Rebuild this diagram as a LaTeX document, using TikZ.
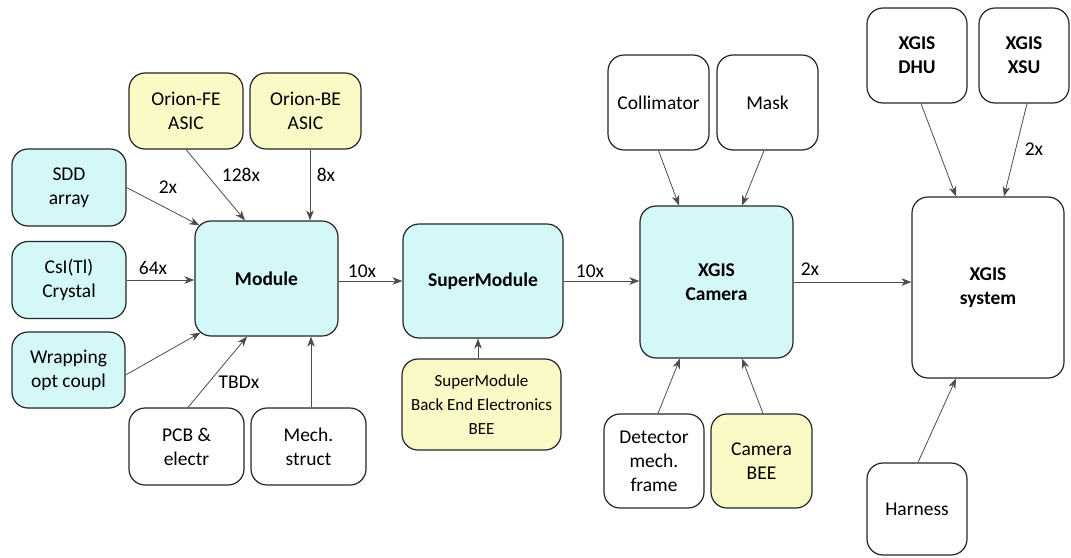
\documentclass[tikz,border=0pt]{standalone}
\usepackage{fontspec}
\setmainfont{Carlito}
\usetikzlibrary{arrows.meta}
\definecolor{detectorCyan}{RGB}{212,247,248}
\definecolor{electronicsYellow}{RGB}{250,250,198}

\begin{document}
\begin{tikzpicture}[
  x=1pt, y=-1pt,
  every node/.style={align=center, font=\fontsize{19.5}{24}\selectfont},
  box/.style={rounded corners=16pt, draw=black!85, line width=1.2pt, fill=white, inner sep=2pt},
  cyanbox/.style={box, fill=detectorCyan},
  yellowbox/.style={box, fill=electronicsYellow},
  mainbox/.style={font=\bfseries\fontsize{19.5}{24}\selectfont},
  flow/.style={-{Stealth[length=10pt,width=7.5pt,inset=3pt]}, line width=0.8pt, draw=black!70},
  mult/.style={inner sep=0pt}]

\useasboundingbox (0,0) rectangle (1071,557);

% Position the nodes at the places they take in the layout
\node[yellowbox, minimum width=114pt, minimum height=76pt] (orionFE) at (186,111) {Orion-FE\\ASIC};
\node[yellowbox, minimum width=111pt, minimum height=76pt] (orionBE) at (305.5,111) {Orion-BE\\ASIC};
\node[cyanbox, minimum width=114pt, minimum height=77pt] (sddArray) at (69,187.5) {SDD\\array};
\node[cyanbox, minimum width=114pt, minimum height=77pt] (csiCrystal) at (69,280) {CsI(Tl)\\Crystal};
\node[cyanbox, minimum width=113pt, minimum height=76pt] (wrappingCoupl) at (68.5,370) {Wrapping\\opt coupl};
\node[cyanbox, mainbox, minimum width=143pt, minimum height=115pt] (module) at (266.5,278.5) {Module};
\node[box, minimum width=115pt, minimum height=77pt] (pcbElectr) at (186.5,446.5) {PCB \&\\electr};
\node[box, minimum width=115pt, minimum height=77pt] (mechStruct) at (308.5,446.5) {Mech.\\struct};

\node[cyanbox, mainbox, minimum width=160pt, minimum height=114pt] (superModule) at (483,281) {SuperModule};
\node[yellowbox, minimum width=159pt, minimum height=91pt,
  font=\fontsize{17}{24}\selectfont] (superModuleBEE) at (481.5,404.5) {SuperModule\\Back End Electronics\\BEE};

\node[box, minimum width=101pt, minimum height=95pt] (collimator) at (658.5,102.5) {Collimator};
\node[box, minimum width=101pt, minimum height=95pt] (mask) at (767.5,102.5) {Mask};
\node[cyanbox, mainbox, minimum width=153pt, minimum height=152pt] (xgisCamera) at (716.5,282) {XGIS\\Camera};
\node[box, minimum width=100pt, minimum height=94pt] (detectorFrame) at (654,461) {Detector\\mech.\\frame};
\node[yellowbox, minimum width=101pt, minimum height=94pt] (cameraBEE) at (761.5,461) {Camera\\BEE};

\node[box, mainbox, minimum width=100pt, minimum height=95pt] (xgisDHU) at (917,55.5) {XGIS\\DHU};
\node[box, mainbox, minimum width=90pt, minimum height=95pt] (xgisXSU) at (1024,55.5) {XGIS\\XSU};
\node[box, mainbox, minimum width=152pt, minimum height=181pt] (xgisSystem) at (988,287.5) {XGIS\\system};
\node[box, minimum width=100pt, minimum height=92pt] (harness) at (917,509) {Harness};

% Draw the arrows between the nodes
\draw [flow] (sddArray.east) -- ([shift={(5pt,-5pt)}]module.north west);
\draw [flow] (orionFE.south) -- ([xshift=-21.5pt]module.north);
\draw [flow] ([xshift=4.5pt]orionBE.south) -- ([xshift=43.5pt]module.north);
\draw [flow] (csiCrystal.east) -- (csiCrystal.east -| module.west);
\draw [flow] ([yshift=-5pt]wrappingCoupl.east) -- ([shift={(6pt,4pt)}]module.south west);
\draw [flow] ([xshift=1.5pt]pcbElectr.north) -- ([xshift=-19.5pt]module.south);
\draw [flow] ([xshift=2.5pt]mechStruct.north) -- ([xshift=44.5pt]module.south);

\draw [flow] (module.east |- superModule.west) -- (superModule.west);
\draw [flow] ([xshift=-3.5pt]superModuleBEE.north) -- ([xshift=-5pt]superModule.south);
\draw [flow] (superModule.east) -- (superModule.east -| xgisCamera.west);

\draw [flow] (collimator.south) -- ([xshift=-37.5pt]xgisCamera.north);
\draw [flow] ([xshift=-3.5pt]mask.south) -- ([xshift=25.5pt]xgisCamera.north);
\draw [flow] ([xshift=4pt]detectorFrame.north) -- ([xshift=-36.5pt]xgisCamera.south);
\draw [flow] ([xshift=1.5pt]cameraBEE.north) -- ([xshift=25.5pt]xgisCamera.south);
\draw [flow] (xgisCamera.east) -- (xgisCamera.east -| xgisSystem.west);

\draw [flow] ([xshift=4pt]xgisDHU.south) -- ([xshift=-32pt]xgisSystem.north);
\draw [flow] ([xshift=3pt]xgisXSU.south) -- ([xshift=16pt]xgisSystem.north);
\draw [flow] ([xshift=1pt]harness.north) -- ([xshift=-32pt]xgisSystem.south);

% Multiplicities next to the arrows
\node[mult] (multSdd) at (168,187) {2x};
\node[mult] (multFE) at (241,175) {128x};
\node[mult] (multBE) at (326,175) {8x};
\node[mult] (multCsI) at (153,268) {64x};
\node[mult] (multPCB) at (239,382) {TBDx};
\node[mult] (multModule) at (362,271) {10x};
\node[mult] (multSuper) at (590,271) {10x};
\node[mult] (multCamera) at (810,269) {2x};
\node[mult] (multXSU) at (1034,149) {2x};

\end{tikzpicture}
\end{document}
